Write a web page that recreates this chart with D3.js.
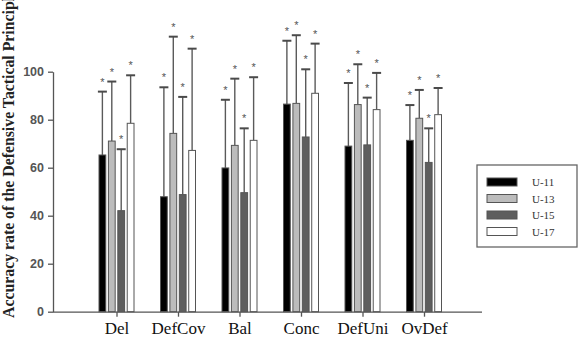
<!DOCTYPE html>
<html>
<head>
<meta charset="utf-8">
<script src="https://cdn.jsdelivr.net/npm/d3@7"></script>
<style>
  body { margin: 0; background: #fff; }
  svg { display: block; }
</style>
</head>
<body>
<svg width="579" height="347"></svg>
<script>
// principles on the x axis, age groups as series
var categories = ['Del', 'DefCov', 'Bal', 'Conc', 'DefUni', 'OvDef'];
var groups = ['U-11', 'U-13', 'U-15', 'U-17'];

// mean accuracy per principle, one array per group
var u11Mean = [65.3, 47.9, 59.9, 86.5, 69.0, 71.4];
var u13Mean = [71.1, 74.3, 69.3, 86.8, 86.3, 80.6];
var u15Mean = [42.1, 48.8, 49.6, 72.8, 69.5, 62.2];
var u17Mean = [78.5, 67.2, 71.4, 91.0, 84.2, 82.1];

// mean + SD (top of error bar)
var u11Upper = [91.7, 93.5, 88.3, 112.9, 95.3, 86.1];
var u13Upper = [95.9, 114.6, 97.1, 115.2, 103.1, 92.4];
var u15Upper = [67.7, 89.5, 76.4, 101.0, 89.2, 76.4];
var u17Upper = [98.5, 109.6, 97.7, 111.7, 99.5, 93.2];

var yTicks = [0, 20, 40, 60, 80, 100];

var means = [u11Mean, u13Mean, u15Mean, u17Mean];
var uppers = [u11Upper, u13Upper, u15Upper, u17Upper];
var fills = ['#000000', '#bcbcbc', '#5e5e5e', '#ffffff'];

var svg = d3.select('svg');

var x = d3.scalePoint().domain(categories).range([116.5, 424]);
var xInner = d3.scaleBand().domain(groups).range([-17.5, 17.5]).paddingInner(0.28);
var y = d3.scaleLinear().domain([0, 100]).range([311.7, 71.7]);

var color = d3.scaleOrdinal().domain(groups).range(fills);

// flatten into one record per bar
var rows = [];
categories.forEach(function (c, i) {
  groups.forEach(function (g, j) {
    rows.push({ cat: c, grp: g, mean: means[j][i], upper: uppers[j][i] });
  });
});

function mid(d) {
  return x(d.cat) + xInner(d.grp) + xInner.bandwidth() / 2;
}

// error bars (mean up to mean + SD)
var err = svg.append('g').attr('class', 'errors');
err.selectAll('line.stem')
  .data(rows)
  .enter()
  .append('line')
  .attr('class', 'stem')
  .attr('x1', mid)
  .attr('x2', mid)
  .attr('y1', function (d) { return y(d.mean); })
  .attr('y2', function (d) { return y(d.upper); })
  .attr('stroke', '#5a5a5a')
  .attr('stroke-width', 1.4);

err.selectAll('line.cap')
  .data(rows)
  .enter()
  .append('line')
  .attr('class', 'cap')
  .attr('x1', function (d) { return mid(d) - 4.5; })
  .attr('x2', function (d) { return mid(d) + 4.5; })
  .attr('y1', function (d) { return y(d.upper); })
  .attr('y2', function (d) { return y(d.upper); })
  .attr('stroke', '#4a4a4a')
  .attr('stroke-width', 2);

// stars above each cap
err.selectAll('text')
  .data(rows)
  .enter()
  .append('text')
  .attr('x', mid)
  .attr('y', function (d) { return y(d.upper) - 6; })
  .attr('text-anchor', 'middle')
  .attr('font-family', 'Liberation Sans, Arial, sans-serif')
  .attr('font-size', 11)
  .attr('fill', '#555')
  .text('*');

svg.append('g')
  .attr('class', 'bars')
  .selectAll('rect')
  .data(rows)
  .enter()
  .append('rect')
  .attr('x', function (d) { return x(d.cat) + xInner(d.grp); })
  .attr('y', function (d) { return y(d.mean); })
  .attr('width', xInner.bandwidth())
  .attr('height', function (d) { return y(0) - y(d.mean); })
  .attr('fill', function (d) { return color(d.grp); })
  .attr('stroke', '#555')
  .attr('stroke-width', 1);

// y axis
var yAxis = svg.append('g')
  .attr('transform', 'translate(53,0)')
  .call(d3.axisLeft(y).tickValues(yTicks).tickSize(5).tickSizeOuter(0).tickPadding(4));
yAxis.select('.domain').attr('stroke', '#555').attr('stroke-width', 1.3);
yAxis.selectAll('.tick line').attr('stroke', '#555').attr('stroke-width', 1.3);
yAxis.selectAll('text')
  .attr('font-family', 'Liberation Sans Narrow, Arial Narrow, Liberation Sans, sans-serif')
  .attr('font-weight', 'bold')
  .attr('font-size', 12.5)
  .attr('fill', '#555');

// x axis
var xAxis = svg.append('g')
  .attr('transform', 'translate(0,' + y(0) + ')')
  .call(d3.axisBottom(x).tickSize(5).tickSizeOuter(0).tickPadding(5));
xAxis.select('.domain').attr('d', 'M53,0.5H482').attr('stroke', '#555').attr('stroke-width', 1.3);
xAxis.selectAll('.tick line').attr('stroke', '#555').attr('stroke-width', 1.3);
xAxis.selectAll('text')
  .attr('font-family', 'Liberation Serif, Times New Roman, serif')
  .attr('font-size', 17)
  .attr('fill', '#111');

// y axis title, running off the top edge like the source image
svg.append('text')
  .attr('transform', 'translate(14,318) rotate(-90)')
  .attr('text-anchor', 'start')
  .attr('font-family', 'Liberation Serif, Times New Roman, serif')
  .attr('font-weight', 'bold')
  .attr('font-size', 15.8)
  .attr('fill', '#222')
  .text('Accuracy rate of the Defensive Tactical Principles');

// legend
var legend = svg.append('g').attr('transform', 'translate(477,165)');
legend.append('rect')
  .attr('width', 100)
  .attr('height', 82)
  .attr('fill', '#fff')
  .attr('stroke', '#666')
  .attr('stroke-width', 1.3);
var item = legend.selectAll('g.item')
  .data(groups)
  .enter()
  .append('g')
  .attr('class', 'item')
  .attr('transform', function (d, i) { return 'translate(10,' + (13 + i * 16.5) + ')'; });
item.append('rect')
  .attr('width', 30)
  .attr('height', 8)
  .attr('fill', function (d) { return color(d); })
  .attr('stroke', '#555');
item.append('text')
  .attr('x', 45)
  .attr('y', 8)
  .attr('font-family', 'Liberation Serif, Times New Roman, serif')
  .attr('font-size', 11)
  .attr('fill', '#333')
  .text(function (d) { return d; });
</script>
</body>
</html>
